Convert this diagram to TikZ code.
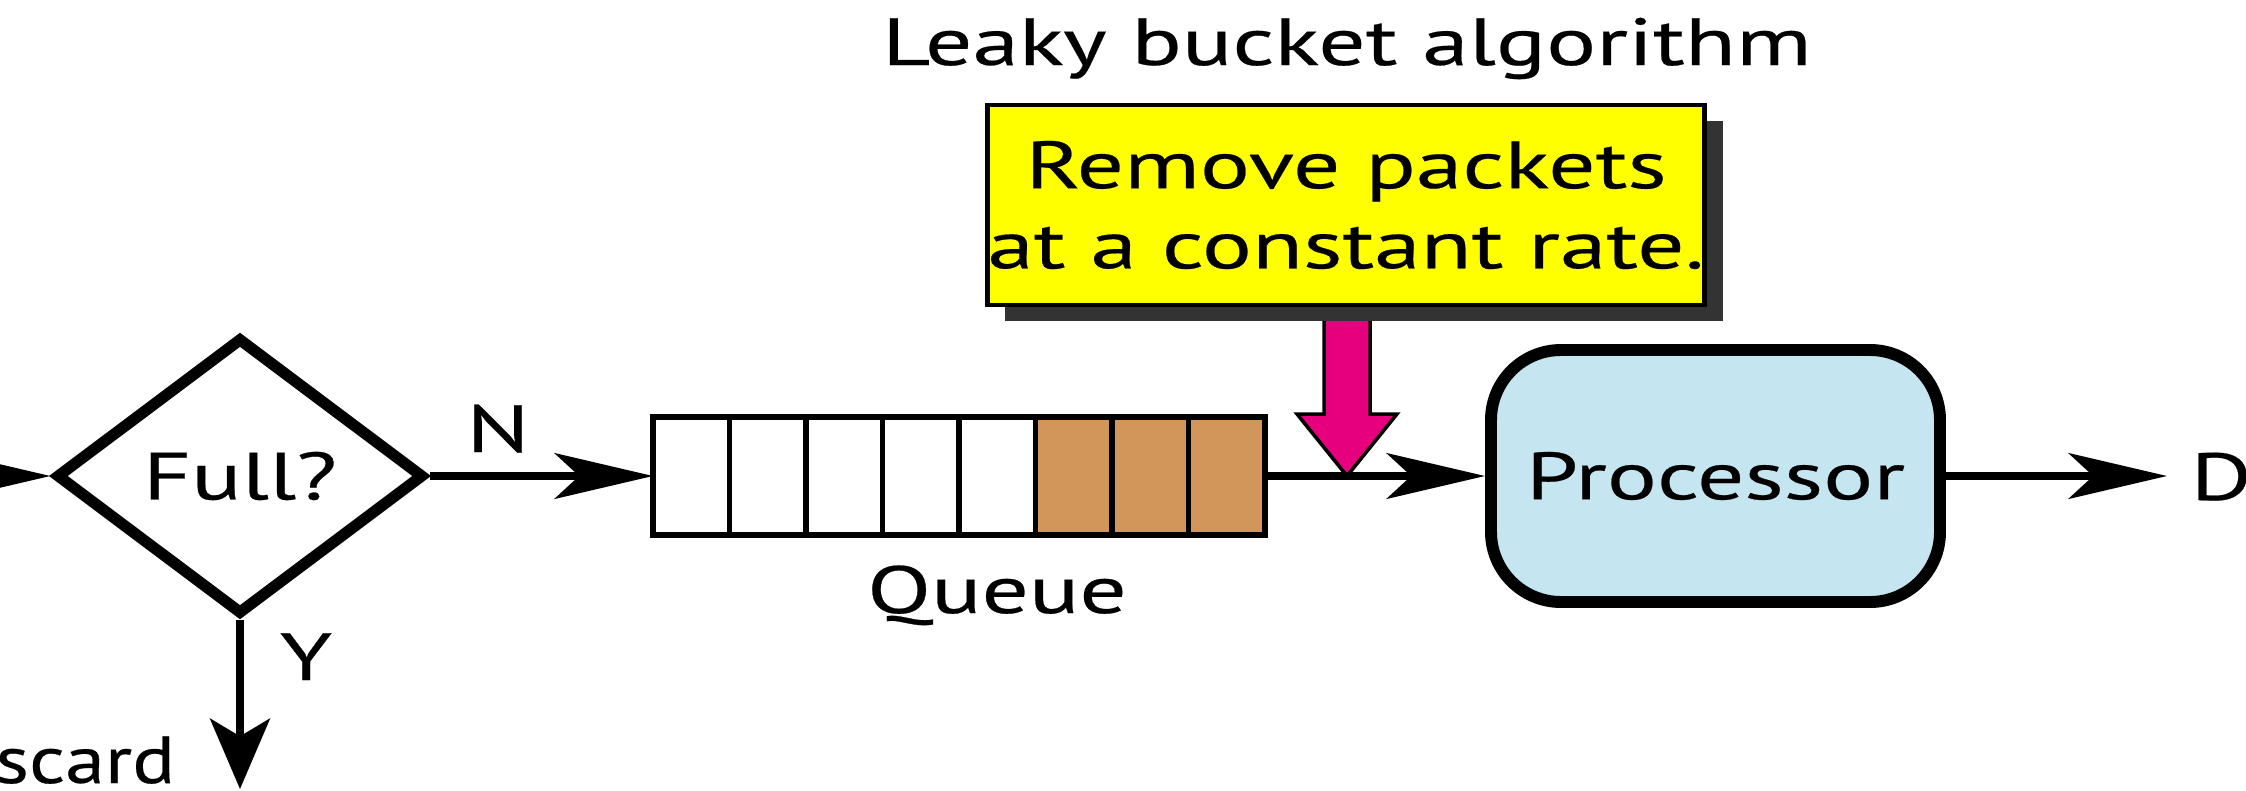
\documentclass[tikz,border=0pt]{standalone}
\usepackage{fontspec}
\setmainfont{PT Sans}[FakeStretch=1.4,FakeBold=0.35]
\newfontfamily\narrowfont{PT Sans}[FakeStretch=1.2,FakeBold=0.35]
\usetikzlibrary{shapes.geometric,arrows.meta,shadows,backgrounds,calc}
\definecolor{queuefill}{RGB}{211,150,90}
\definecolor{procfill}{RGB}{197,230,240}
\definecolor{notefill}{RGB}{255,255,0}
\definecolor{pinkfill}{RGB}{230,0,126}
\begin{document}
\begin{tikzpicture}[x=1mm,y=1mm,
txt/.style={
font={\fontsize{19pt}{22.8pt}\selectfont},
inner sep=0,
},
flow/.style={
line width=2.1pt,
-{Stealth[length=28pt,width=13pt,inset=7pt]},
},
drop/.style={
line width=2.1pt,
-{Stealth[length=20pt,width=17pt,inset=5pt]},
},
diam/.style={
diamond,
draw,
line width=3.2pt,
minimum width=36.8mm,
minimum height=27.7mm,
},
cell/.style={
draw,
line width=1.6pt,
minimum width=7.65mm,
minimum height=11.8mm,
outer sep=0,
},
proc/.style={
draw,
line width=3.4pt,
rounded corners=7mm,
fill=procfill,
minimum width=44.9mm,
minimum height=25.2mm,
},
note/.style={
draw,
line width=1.3pt,
fill=notefill,
align=center,
minimum width=71.2mm,
minimum height=20mm,
drop shadow={shadow xshift=1.8mm,shadow yshift=-1.6mm,fill=black!80,opacity=1},
},
]
\useasboundingbox(0,0)rectangle(224.6,79);
\node[txt,anchor=base](title)at(134.7,72.5){Leaky bucket algorithm};
\node[diam,txt](full)at(24.0,31.4){Full?};
\coordinate(arrival)at(-3,31.4);
\draw[flow](arrival)--(full);
\node[txt,anchor=base](no)at(49.8,33.8){N};
\foreach \i in {1,...,5}{
\node[cell](q\i)at({65.3+7.65*(\i-0.5)},31.4){};
}
\foreach \i in {6,7,8}{
\node[cell,fill=queuefill](q\i)at({65.3+7.65*(\i-0.5)},31.4){};
}
\node[txt,anchor=base](queue)at(99.7,17.7){Queue};
\draw[flow](full)--(q1);
\node[proc,txt](proc)at(171.55,31.4){Processor};
\coordinate(leak)at(134.7,31.4);
\draw[flow](q8)--(proc);
\node[note,txt](rate)at(134.6,58.5){Remove packets\\at a constant rate.};
\begin{scope}[on background layer]
\draw[line width=1pt,fill=pinkfill]($(rate.south-|leak)+(-2.3,0)$)--($(leak)+(-2.3,6.2)$)--($(leak)+(-5,6.2)$)--(leak)--($(leak)+(5,6.2)$)--($(leak)+(2.3,6.2)$)--($(rate.south-|leak)+(2.3,0)$);
\end{scope}
\coordinate(exit)at(216.7,31.4);
\draw[flow](proc)--(exit);
\node[txt,anchor=base west](depart)at(219.0,29.0){Departure};
\coordinate(bin)at(24.0,0.1);
\draw[drop](full)--(bin);
\node[txt,anchor=base](yes)at(30.6,11.0){Y};
\node[txt,anchor=base east,font={\narrowfont\fontsize{19pt}{22.8pt}\selectfont}](discard)at(17.6,0.7){Discard};
\end{tikzpicture}
\end{document}
